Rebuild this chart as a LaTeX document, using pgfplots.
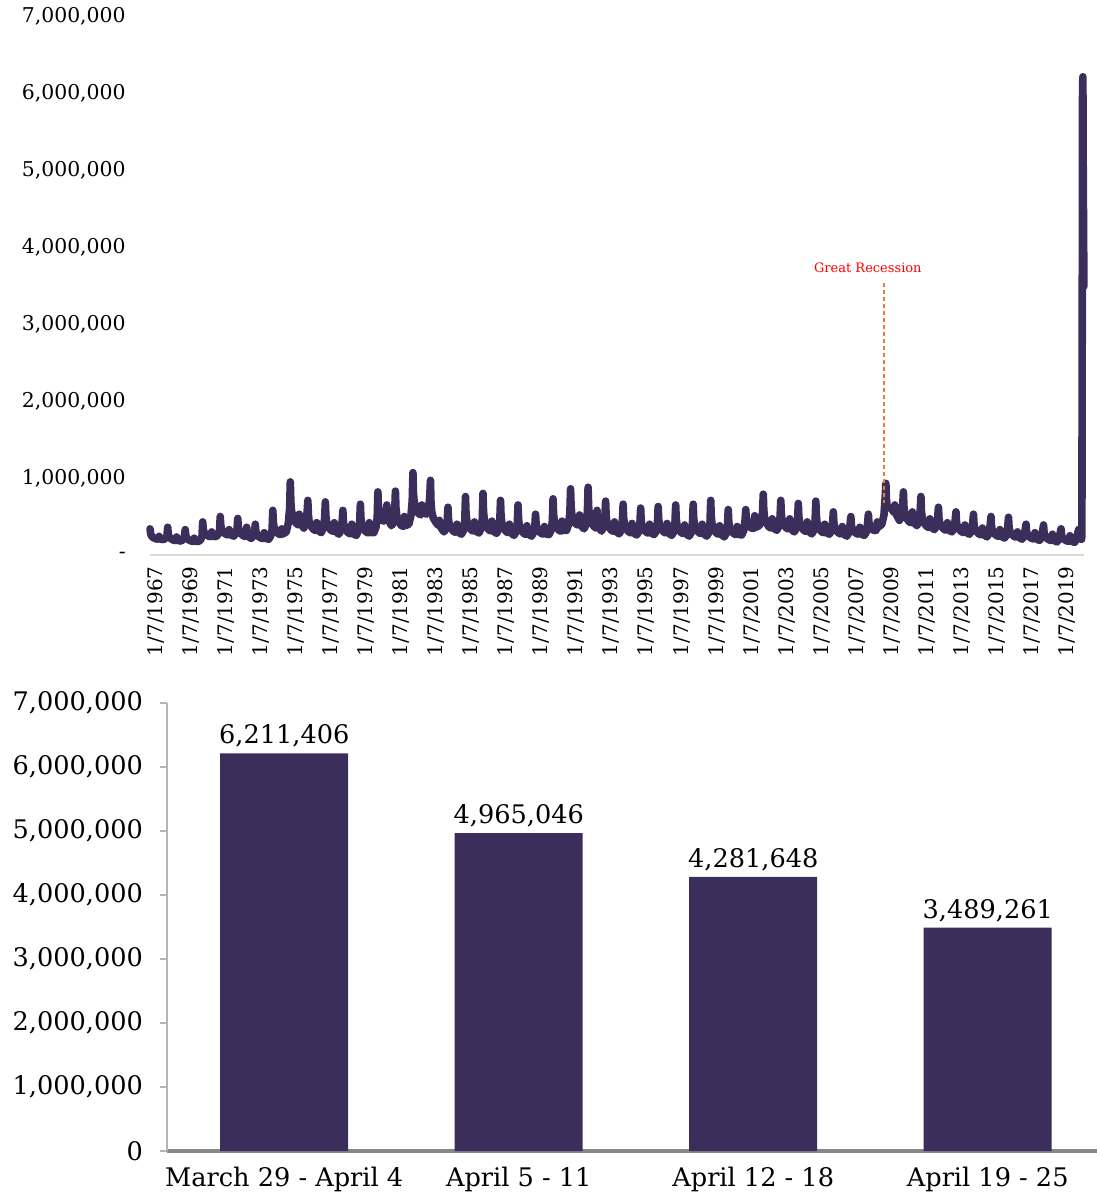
\documentclass[border=0pt]{standalone}
\usepackage{fontspec}
\setmainfont{DejaVu Serif}
\usepackage{pgfplots}
\pgfplotsset{compat=1.18}
\definecolor{claims}{RGB}{59,46,90}
\definecolor{recess}{RGB}{237,125,49}
\definecolor{axgray}{RGB}{217,217,217}
\definecolor{basegray}{RGB}{136,136,136}
\definecolor{ygray}{RGB}{180,180,180}

\begin{document}
\begin{tikzpicture}
\useasboundingbox (0,0) rectangle (548.5pt,599.5pt);

% weekly initial claims (NSA), thousands
\begin{axis}[
    at={(75pt,322pt)}, anchor=south west,
    scale only axis, width=467pt, height=269.5pt,
    xmin=1967, xmax=2020.32, ymin=0, ymax=7000,
    clip=false,
    axis lines=left, axis line style={-},
    x axis line style={draw=axgray, line width=0.6pt},
    y axis line style={draw=none},
    tick style={draw=none},
    xtick={1967,1969,...,2019},
    xticklabels={1/7/1967,1/7/1969,1/7/1971,1/7/1973,1/7/1975,1/7/1977,1/7/1979,
      1/7/1981,1/7/1983,1/7/1985,1/7/1987,1/7/1989,1/7/1991,1/7/1993,1/7/1995,
      1/7/1997,1/7/1999,1/7/2001,1/7/2003,1/7/2005,1/7/2007,1/7/2009,1/7/2011,
      1/7/2013,1/7/2015,1/7/2017,1/7/2019},
    xticklabel style={rotate=90, anchor=east, yshift=-3pt,
      font=\fontsize{10}{12}\selectfont},
    ytick={0,1000,...,7000},
    yticklabels={{-},{1,000,000},{2,000,000},{3,000,000},{4,000,000},{5,000,000},{6,000,000},{7,000,000}},
    yticklabel style={anchor=east, xshift=-6.5pt, font=\fontsize{10.2}{12}\selectfont},
    scaled y ticks=false,
]
\addplot[claims, line width=3.8pt, line join=round, line cap=round] coordinates {
(1967.00,340)(1967.04,277)(1967.08,249)(1967.17,228)(1967.33,211)(1967.45,206)(1967.52,242)(1967.57,208)(1967.78,200)(1967.90,221)(1967.97,256)
(1968.01,360)(1968.04,279)(1968.08,243)(1968.17,216)(1968.33,194)(1968.45,187)(1968.52,234)(1968.57,191)(1968.78,180)(1968.90,207)(1968.97,252)
(1969.01,330)(1969.04,258)(1969.08,226)(1969.17,202)(1969.33,183)(1969.45,176)(1969.52,218)(1969.57,180)(1969.78,175)(1969.90,200)(1969.97,250)
(1970.01,430)(1970.04,340)(1970.08,300)(1970.17,270)(1970.33,246)(1970.45,238)(1970.52,300)(1970.57,242)(1970.78,240)(1970.90,270)(1970.97,320)
(1971.01,500)(1971.04,388)(1971.08,338)(1971.17,300)(1971.33,270)(1971.45,260)(1971.52,330)(1971.57,265)(1971.78,245)(1971.90,280)(1971.97,340)
(1972.01,475)(1972.04,365)(1972.08,316)(1972.17,279)(1972.33,250)(1972.45,240)(1972.52,360)(1972.57,245)(1972.78,215)(1972.90,250)(1972.97,300)
(1973.01,400)(1973.04,312)(1973.08,273)(1973.17,244)(1973.33,221)(1973.45,213)(1973.52,290)(1973.57,217)(1973.78,205)(1973.90,250)(1973.97,330)
(1974.01,580)(1974.04,430)(1974.08,365)(1974.17,316)(1974.33,276)(1974.45,263)(1974.52,340)(1974.57,270)(1974.78,300)(1974.90,420)(1974.97,600)
(1975.01,950)(1975.04,690)(1975.08,573)(1975.17,486)(1975.33,416)(1975.45,393)(1975.52,530)(1975.57,420)(1975.78,350)(1975.90,420)(1975.97,560)
(1976.01,710)(1976.04,525)(1976.08,443)(1976.17,382)(1976.33,333)(1976.45,316)(1976.52,420)(1976.57,325)(1976.78,290)(1976.90,360)(1976.97,480)
(1977.01,690)(1977.04,510)(1977.08,430)(1977.17,370)(1977.33,322)(1977.45,306)(1977.52,420)(1977.57,314)(1977.78,270)(1977.90,330)(1977.97,440)
(1978.01,580)(1978.04,436)(1978.08,372)(1978.17,324)(1978.33,286)(1978.45,273)(1978.52,400)(1978.57,280)(1978.78,255)(1978.90,320)(1978.97,430)
(1979.01,660)(1979.04,485)(1979.08,407)(1979.17,348)(1979.33,301)(1979.45,286)(1979.52,420)(1979.57,293)(1979.78,290)(1979.90,360)(1979.97,480)
(1980.01,820)(1980.04,622)(1980.08,534)(1980.17,468)(1980.33,440)(1980.45,480)(1980.52,650)(1980.57,480)(1980.78,380)(1980.90,420)(1980.97,560)
(1981.01,830)(1981.04,614)(1981.08,518)(1981.17,446)(1981.33,388)(1981.45,370)(1981.52,500)(1981.57,380)(1981.78,400)(1981.90,520)(1981.97,700)
(1982.01,1070)(1982.04,805)(1982.08,690)(1982.17,600)(1982.33,540)(1982.45,520)(1982.52,650)(1982.57,560)(1982.78,530)(1982.90,600)(1982.97,750)
(1983.01,970)(1983.04,690)(1983.08,570)(1983.17,480)(1983.33,420)(1983.45,390)(1983.52,450)(1983.57,370)(1983.78,300)(1983.90,340)(1983.97,450)
(1984.01,620)(1984.04,467)(1984.08,399)(1984.17,348)(1984.33,307)(1984.45,294)(1984.52,400)(1984.57,300)(1984.78,270)(1984.90,320)(1984.97,450)
(1985.01,760)(1985.04,548)(1985.08,455)(1985.17,384)(1985.33,328)(1985.45,309)(1985.52,430)(1985.57,318)(1985.78,285)(1985.90,340)(1985.97,470)
(1986.01,800)(1986.04,570)(1986.08,468)(1986.17,392)(1986.33,331)(1986.45,310)(1986.52,440)(1986.57,320)(1986.78,280)(1986.90,330)(1986.97,450)
(1987.01,710)(1987.04,512)(1987.08,424)(1987.17,358)(1987.33,305)(1987.45,288)(1987.52,400)(1987.57,296)(1987.78,255)(1987.90,300)(1987.97,420)
(1988.01,650)(1988.04,470)(1988.08,390)(1988.17,330)(1988.33,282)(1988.45,266)(1988.52,380)(1988.57,274)(1988.78,245)(1988.90,290)(1988.97,380)
(1989.01,530)(1989.04,408)(1989.08,355)(1989.17,314)(1989.33,282)(1989.45,271)(1989.52,370)(1989.57,276)(1989.78,265)(1989.90,320)(1989.97,440)
(1990.01,730)(1990.04,532)(1990.08,444)(1990.17,378)(1990.33,325)(1990.45,308)(1990.52,440)(1990.57,320)(1990.78,320)(1990.90,400)(1990.97,560)
(1991.01,860)(1991.04,630)(1991.08,530)(1991.17,452)(1991.33,400)(1991.45,390)(1991.52,520)(1991.57,390)(1991.78,340)(1991.90,400)(1991.97,560)
(1992.01,880)(1992.04,632)(1992.08,522)(1992.17,440)(1992.33,374)(1992.45,352)(1992.52,580)(1992.57,370)(1992.78,310)(1992.90,370)(1992.97,500)
(1993.01,700)(1993.04,515)(1993.08,433)(1993.17,372)(1993.33,323)(1993.45,306)(1993.52,430)(1993.57,315)(1993.78,275)(1993.90,320)(1993.97,450)
(1994.01,660)(1994.04,484)(1994.08,406)(1994.17,348)(1994.33,301)(1994.45,286)(1994.52,410)(1994.57,293)(1994.78,260)(1994.90,300)(1994.97,420)
(1995.01,610)(1995.04,457)(1995.08,389)(1995.17,338)(1995.33,297)(1995.45,284)(1995.52,400)(1995.57,290)(1995.78,265)(1995.90,310)(1995.97,430)
(1996.01,630)(1996.04,468)(1996.08,396)(1996.17,342)(1996.33,299)(1996.45,284)(1996.52,410)(1996.57,292)(1996.78,255)(1996.90,300)(1996.97,420)
(1997.01,650)(1997.04,474)(1997.08,396)(1997.17,338)(1997.33,291)(1997.45,276)(1997.52,390)(1997.57,283)(1997.78,245)(1997.90,290)(1997.97,420)
(1998.01,660)(1998.04,480)(1998.08,400)(1998.17,340)(1998.33,292)(1998.45,276)(1998.52,400)(1998.57,284)(1998.78,245)(1998.90,290)(1998.97,420)
(1999.01,710)(1999.04,503)(1999.08,411)(1999.17,342)(1999.33,287)(1999.45,268)(1999.52,380)(1999.57,278)(1999.78,235)(1999.90,280)(1999.97,400)
(2000.01,590)(2000.04,437)(2000.08,369)(2000.17,318)(2000.33,277)(2000.45,264)(2000.52,370)(2000.57,270)(2000.78,260)(2000.90,320)(2000.97,450)
(2001.01,590)(2001.04,473)(2001.08,421)(2001.17,382)(2001.33,350)(2001.45,345)(2001.52,510)(2001.57,360)(2001.78,380)(2001.90,450)(2001.97,560)
(2002.01,790)(2002.04,583)(2002.08,491)(2002.17,422)(2002.33,367)(2002.45,348)(2002.52,470)(2002.57,355)(2002.78,320)(2002.90,370)(2002.97,500)
(2003.01,710)(2003.04,535)(2003.08,457)(2003.17,398)(2003.33,351)(2003.45,336)(2003.52,470)(2003.57,343)(2003.78,300)(2003.90,350)(2003.97,470)
(2004.01,670)(2004.04,499)(2004.08,423)(2004.17,366)(2004.33,320)(2004.45,305)(2004.52,430)(2004.57,313)(2004.78,275)(2004.90,320)(2004.97,450)
(2005.01,700)(2005.04,507)(2005.08,421)(2005.17,356)(2005.33,304)(2005.45,287)(2005.52,400)(2005.57,296)(2005.78,270)(2005.90,310)(2005.97,420)
(2006.01,560)(2006.04,425)(2006.08,365)(2006.17,320)(2006.33,284)(2006.45,272)(2006.52,370)(2006.57,278)(2006.78,245)(2006.90,290)(2006.97,400)
(2007.01,500)(2007.04,392)(2007.08,344)(2007.17,308)(2007.33,279)(2007.45,270)(2007.52,360)(2007.57,274)(2007.78,255)(2007.90,300)(2007.97,420)
(2008.01,530)(2008.04,427)(2008.08,381)(2008.17,346)(2008.33,318)(2008.45,320)(2008.52,430)(2008.57,360)(2008.78,400)(2008.90,520)(2008.97,750)
(2009.01,930)(2009.04,728)(2009.08,638)(2009.17,620)(2009.33,600)(2009.45,560)(2009.52,650)(2009.57,540)(2009.78,450)(2009.90,500)(2009.97,640)
(2010.01,820)(2010.04,631)(2010.08,547)(2010.17,484)(2010.33,434)(2010.45,417)(2010.52,560)(2010.57,430)(2010.78,380)(2010.90,440)(2010.97,580)
(2011.01,760)(2011.04,571)(2011.08,487)(2011.17,424)(2011.33,374)(2011.45,357)(2011.52,470)(2011.57,365)(2011.78,330)(2011.90,380)(2011.97,500)
(2012.01,620)(2012.04,480)(2012.08,418)(2012.17,372)(2012.33,335)(2012.45,322)(2012.52,420)(2012.57,328)(2012.78,300)(2012.90,350)(2012.97,460)
(2013.01,560)(2013.04,434)(2013.08,378)(2013.17,336)(2013.33,302)(2013.45,291)(2013.52,390)(2013.57,297)(2013.78,270)(2013.90,310)(2013.97,420)
(2014.01,530)(2014.04,404)(2014.08,348)(2014.17,306)(2014.33,272)(2014.45,261)(2014.52,350)(2014.57,267)(2014.78,235)(2014.90,280)(2014.97,400)
(2015.01,500)(2015.04,378)(2015.08,324)(2015.17,284)(2015.33,252)(2015.45,241)(2015.52,330)(2015.57,246)(2015.78,220)(2015.90,260)(2015.97,380)
(2016.01,490)(2016.04,368)(2016.08,314)(2016.17,274)(2016.33,242)(2016.45,231)(2016.52,300)(2016.57,236)(2016.78,205)(2016.90,250)(2016.97,340)
(2017.01,400)(2017.04,310)(2017.08,270)(2017.17,240)(2017.33,216)(2017.45,208)(2017.52,290)(2017.57,212)(2017.78,190)(2017.90,230)(2017.97,330)
(2018.01,390)(2018.04,295)(2018.08,253)(2018.17,222)(2018.33,197)(2018.45,188)(2018.52,270)(2018.57,193)(2018.78,170)(2018.90,210)(2018.97,300)
(2019.01,340)(2019.04,263)(2019.08,229)(2019.17,204)(2019.33,184)(2019.45,177)(2019.52,250)(2019.57,180)(2019.78,165)(2019.90,200)(2019.97,290)
(2020.01,330)(2020.04,280)(2020.08,240)(2020.13,220)(2020.18,205)(2020.199,251)(2020.218,2920)(2020.237,6015)(2020.256,6211)(2020.275,4965)(2020.294,4282)(2020.313,3489)
};
\draw[recess, line width=0.6pt, dash pattern=on 2pt off 1.5pt]
  (axis cs:2008.9,3530) -- (axis cs:2008.9,675);
\node[red, font=\fontsize{6.5}{8}\selectfont] at (axis cs:2007.98,3730) {Great Recession};
\end{axis}

% last four weeks
\begin{axis}[
    at={(83.5pt,24pt)}, anchor=south west,
    scale only axis, width=465pt, height=224pt,
    ybar, bar width=64pt, bar shift=0pt,
    xmin=-0.5, xmax=3.466, ymin=0, ymax=7000000,
    clip=false,
    axis lines=left, axis line style={-},
    x axis line style={draw=basegray, line width=2pt},
    y axis line style={draw=ygray, line width=0.8pt},
    xtick={0,1,2,3},
    xtick style={draw=none},
    ytick style={draw=ygray, line width=0.8pt},
    tick align=outside, major tick length=3.5pt,
    xticklabels={March 29 - April 4, April 5 - 11, April 12 - 18, April 19 - 25},
    xticklabel style={font=\fontsize{12.8}{15}\selectfont, yshift=-1pt},
    ytick={0,1000000,2000000,3000000,4000000,5000000,6000000,7000000},
    yticklabels={0,{1,000,000},{2,000,000},{3,000,000},{4,000,000},{5,000,000},{6,000,000},{7,000,000}},
    yticklabel style={anchor=east, xshift=-5pt, font=\fontsize{12.8}{15}\selectfont},
    scaled y ticks=false,
    point meta=explicit symbolic,
    nodes near coords={\pgfplotspointmeta},
    nodes near coords style={font=\fontsize{12.8}{15}\selectfont, black, anchor=south, yshift=-0.5pt},
]
\addplot[fill=claims, draw=none] coordinates {
  (0,6211406) [6,211,406]
  (1,4965046) [4,965,046]
  (2,4281648) [4,281,648]
  (3,3489261) [3,489,261]
};
\end{axis}
\end{tikzpicture}
\end{document}
